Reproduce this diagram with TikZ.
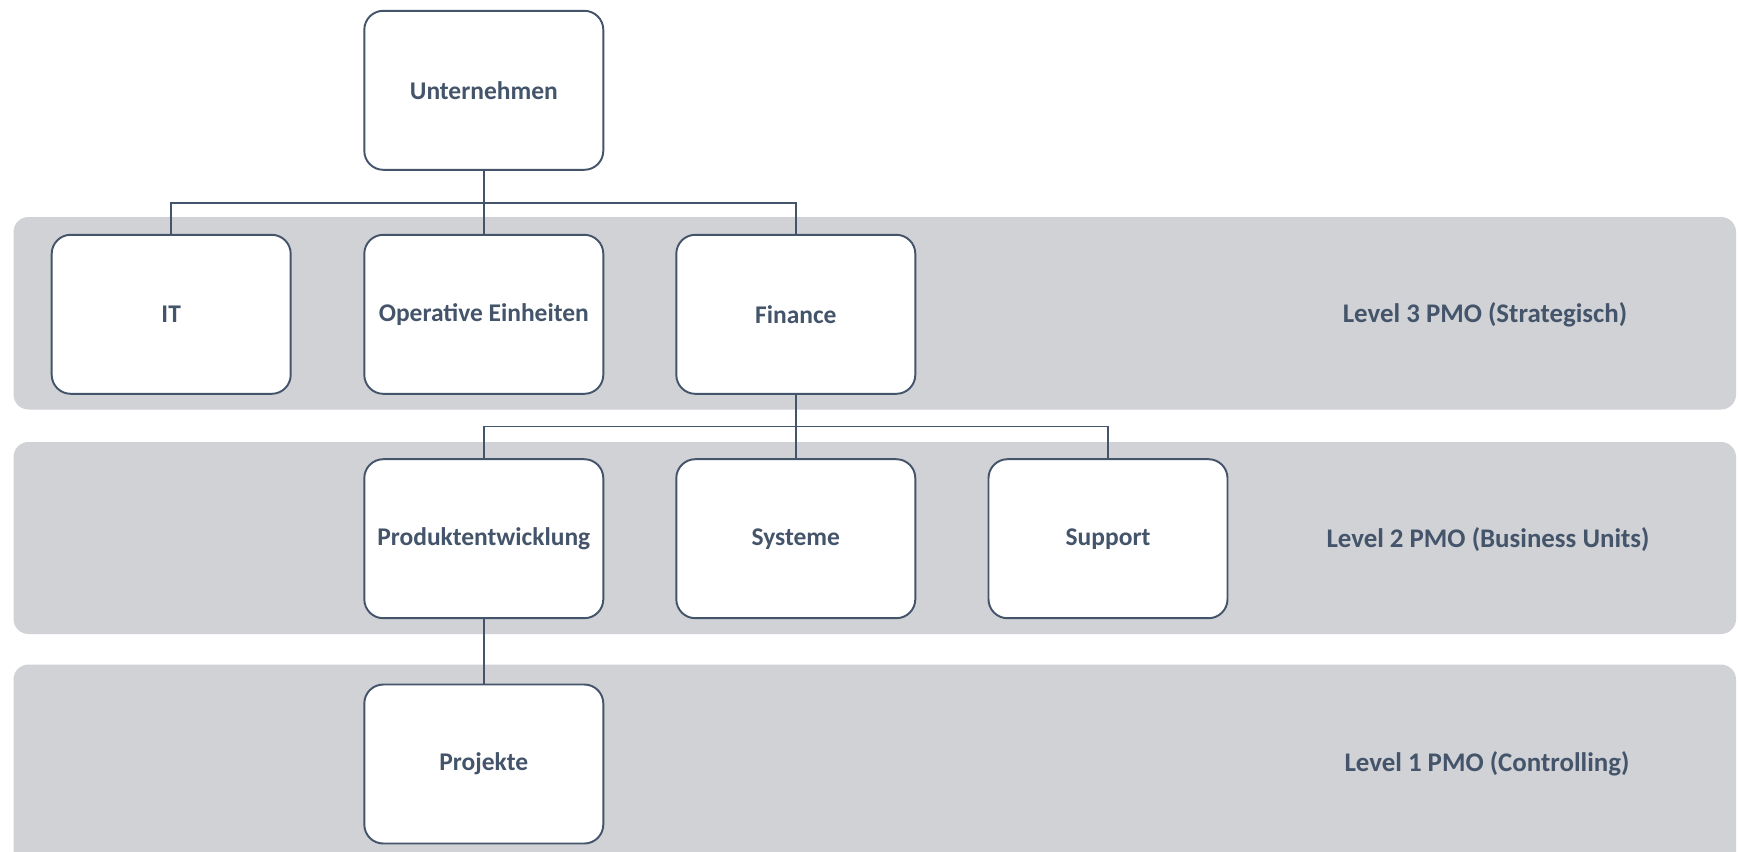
\documentclass[tikz,border=0pt]{standalone}
\usepackage{fontspec}
\setmainfont{Carlito}
\usepackage{tikz}

\definecolor{slate}{HTML}{44546A}
\definecolor{bandgray}{HTML}{D0D2D6}

\tikzset{
  band/.style={fill=bandgray, draw=none, rounded corners=0.3cm},
  unit/.style={draw=slate, line width=1.1pt, fill=white, rounded corners=0.38cm,
    minimum width=4.78cm, minimum height=3.18cm, inner sep=0pt,
    text=slate, font=\fontsize{14.5pt}{17pt}\selectfont\bfseries},
  levellabel/.style={text=slate, font=\fontsize{15.3pt}{18pt}\selectfont\bfseries},
  link/.style={draw=slate, line width=0.8pt}
}

\begin{document}
\begin{tikzpicture}
\clip (0,0) rectangle (34.76,-17.02);
\fill[white] (0,0) rectangle (34.76,-17.02);

% level bands
\fill[band] (0.27,-4.34) rectangle (34.72,-8.19);
\fill[band] (0.27,-8.84) rectangle (34.72,-12.68);
\fill[band] (0.27,-13.29) rectangle (34.72,-17.60);

\coordinate (bus1) at (9.676,-4.06);
\coordinate (bus2) at (15.916,-8.534);

\begin{scope}[every node/.style={unit}]
\node (U) at (9.676,-1.806) {Unternehmen};
\node (IT) at (3.424,-6.286) {IT};
\node (OE) at (9.676,-6.286) {Operative Einheiten};
\node (Fin) at (15.916,-6.286) {Finance};
\node (Prod) at (9.676,-10.774) {Produktentwicklung};
\node (Sys) at (15.916,-10.774) {Systeme};
\node (Sup) at (22.16,-10.774) {Support};
\node (Proj) at (9.676,-15.28) {Projekte};
\end{scope}

% connectors
\draw[link] (U.south) -- (bus1) -| (IT.north);
\draw[link] (bus1) -- (OE.north);
\draw[link] (bus1) -| (Fin.north);
\draw[link] (Fin.south) -- (bus2) -| (Prod.north);
\draw[link] (bus2) -- (Sys.north);
\draw[link] (bus2) -| (Sup.north);
\draw[link] (Prod.south) -- (Proj.north);

\node[levellabel] (L3) at (29.70,-6.29) {Level 3 PMO (Strategisch)};
\node[levellabel] (L2) at (29.76,-10.79) {Level 2 PMO (Business Units)};
\node[levellabel] (L1) at (29.74,-15.27) {Level 1 PMO (Controlling)};
\end{tikzpicture}
\end{document}
